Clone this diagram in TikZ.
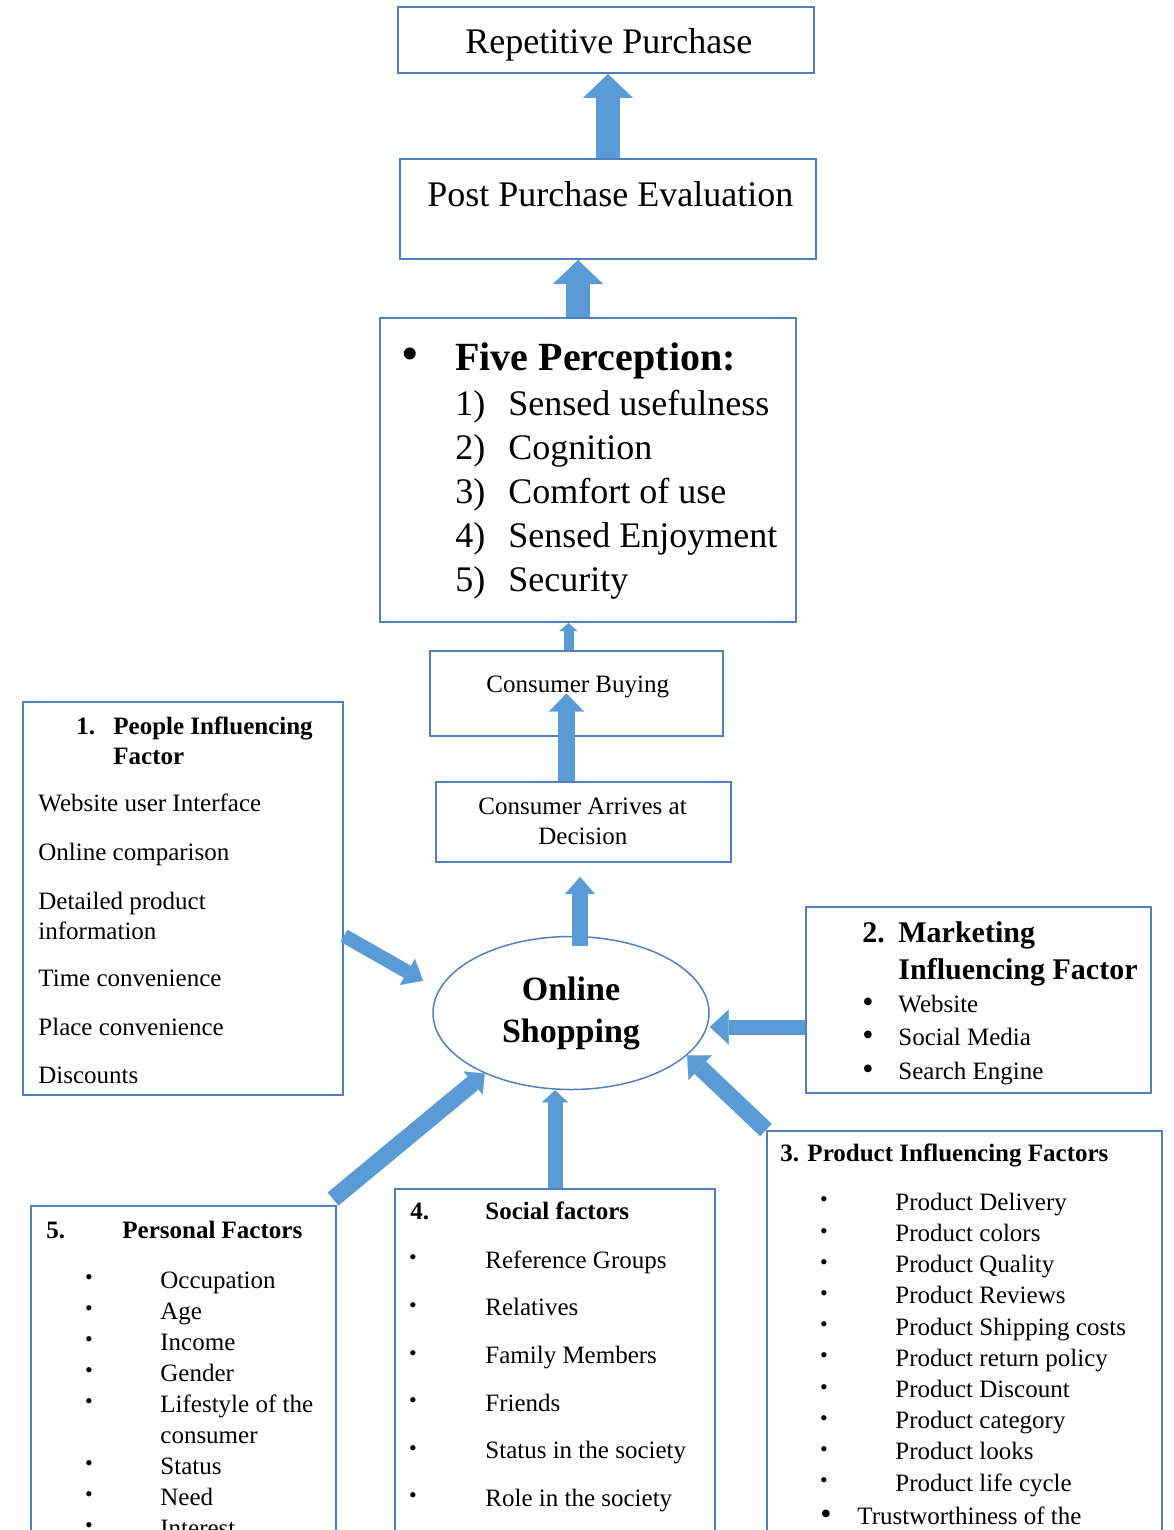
\documentclass[tikz,border=0pt]{standalone}
\usepackage{fontspec}
\setmainfont{Liberation Serif}
\usetikzlibrary{arrows.meta,shapes.geometric,positioning}
\definecolor{boxblue}{HTML}{4F81BD}
\definecolor{arrowblue}{HTML}{5B9BD5}
\tikzset{
  box/.style={
    draw = boxblue,
    line width = 1pt,
    shape = rectangle,
    inner sep = 0pt
  },
  txt/.style={
    anchor = west,
    inner sep = 0pt,
    text height = 8.2pt,
    text depth = 0pt,
    font = \fontsize{12.5}{15}\selectfont
  },
  hd/.style={
    txt,
    font = \fontsize{12.5}{15}\selectfont\bfseries
  },
  mhd/.style={
    txt,
    text height = 9.9pt,
    font = \fontsize{15}{18}\selectfont\bfseries
  },
  bigtxt/.style={
    anchor = west,
    inner sep = 0pt,
    text height = 11.9pt,
    text depth = 0pt,
    font = \fontsize{18}{21}\selectfont
  },
  bul/.style={
    inner sep = 0pt,
    font = \fontsize{11}{11}\selectfont
  },
  bigbul/.style={
    inner sep = 0pt,
    font = \fontsize{16}{16}\selectfont
  },
  fat/.style n args={3}{
    draw = arrowblue,
    line width = #1,
    -{Triangle[width=#2, length=#3, line width=0.1pt]}
  },
}
\begin{document}
\begin{tikzpicture}[x=0.5pt, y=-0.5pt]
\useasboundingbox[fill=white] (0,0) rectangle (1173,1530);
% upper chain
\node[box, minimum width=208pt, minimum height=33pt] (rep) at (606,40) {};
\node[bigtxt] (rept) at (465,42) {Repetitive Purchase};
\node[box, minimum width=208pt, minimum height=50pt] (post) at (608,209) {};
\node[bigtxt] (postt) at (427,195) {Post Purchase Evaluation};
\node[box, minimum width=208pt, minimum height=152pt] (five) at (588,470) {};
\node[inner sep=0pt, font=\fontsize{25}{25}\selectfont] (fbul) at (410,359) {•};
\node[bigtxt, text height=13.2pt, font=\fontsize{20}{24}\selectfont\bfseries] (fhd) at (455,357) {Five Perception:};
\foreach \t [count=\i] in {Sensed usefulness,Cognition,Comfort of use,Sensed Enjoyment,Security}{
  \node[bigtxt] (fn\i) at (455,{360+44*\i}) {\i)};
  \node[bigtxt] (ft\i) at (508,{360+44*\i}) {\t};
}
\node[box, minimum width=146.5pt, minimum height=42.5pt] (buy) at (576.5,693.5) {};
\node[txt] (buyt) at (486,684) {Consumer Buying};
\node[box, minimum width=147.5pt, minimum height=40pt] (arr) at (583.5,822) {};
\node[txt] (arrt1) at (478,806) {Consumer Arrives at};
\node[txt] (arrt2) at (538,836) {Decision};
% centre
\node[ellipse, draw=boxblue, line width=0.75pt, minimum width=138pt, minimum height=76.5pt, inner sep=0pt, align=center, font=\fontsize{17}{21}\selectfont\bfseries] (shop) at (571,1013) {Online\\Shopping};
% 1. people
\node[box, minimum width=160pt, minimum height=196.5pt] (people) at (183,898.5) {};
\node[hd] (pn) at (76,726) {1.};
\node[hd] (ph1) at (113,726) {People Influencing};
\node[hd] (ph2) at (113,756) {Factor};
\foreach \y/\t [count=\i] in {803/Website user Interface,852/Online comparison,901/Detailed product,931/information,978/Time convenience,1027/Place convenience,1075/Discounts}
  \node[txt] (pi\i) at (38,\y) {\t};
% 2. marketing
\node[box, minimum width=172.5pt, minimum height=93pt] (mkt) at (978.5,1000) {};
\node[mhd] (mn) at (862,933) {2.};
\node[mhd] (mh1) at (898,933) {Marketing};
\node[mhd] (mh2) at (898,970) {Influencing Factor};
\foreach \y/\t [count=\i] in {1004/Website,1037/Social Media,1071/Search Engine}{
  \node[bigbul] (mb\i) at (868,{\y+1}) {•};
  \node[txt] (mi\i) at (898,\y) {\t};
}
% 3. product
\node[box, minimum width=197.5pt, minimum height=214.5pt] (prod) at (964.5,1345.5) {};
\node[hd] (prh) at (780,1153) {3. Product Influencing Factors};
\foreach \t [count=\i] in {Delivery,colors,Quality,Reviews,Shipping costs,return policy,Discount,category,looks,life cycle}{
  \node[bul] (prb\i) at (824,{1170.8+31.2*\i}) {•};
  \node[txt] (pri\i) at (895,{1170.8+31.2*\i}) {Product \t};
}
\node[bigbul] (prb11) at (826,1517) {•};
\node[txt] (pri11) at (857,1516) {Trustworthiness of the};
% 4. social
\node[box, minimum width=160pt, minimum height=185.5pt] (social) at (555,1374.5) {};
\node[hd] (sn) at (410,1211) {4.};
\node[hd] (sh) at (485,1211) {Social factors};
\foreach \t [count=\i] in {Reference Groups,Relatives,Family Members,Friends,Status in the society,Role in the society}{
  \node[bul] (sb\i) at (413,{1212.4+47.6*\i}) {•};
  \node[txt] (si\i) at (485,{1212.4+47.6*\i}) {\t};
}
% 5. personal
\node[box, minimum width=152.5pt, minimum height=177pt] (pers) at (183.5,1383) {};
\node[hd] (pen) at (46,1230) {5.};
\node[hd] (peh) at (122,1230) {Personal Factors};
\foreach \t [count=\i] in {Occupation,Age,Income,Gender,Lifestyle of the,consumer,Status,Need,Interest}{
  \node[txt] (pei\i) at (160,{1249+31*\i}) {\t};
  \ifnum\i=6 \else \node[bul] (peb\i) at (89,{1249+31*\i}) {•}; \fi
}
% arrows
\draw[fat={12pt}{25pt}{12pt}] (post.north) -- (post.north |- rep.south);
\draw[fat={12pt}{25pt}{12pt}] ([xshift=-5pt]five.north) -- ([xshift=-5pt]five.north |- post.south);
\draw[fat={5pt}{9pt}{4pt}] ([xshift=-4pt]buy.north) -- ([xshift=-4pt]buy.north |- five.south);
\draw[fat={8.5pt}{17.5pt}{9pt}] ([xshift=-8.5pt]arr.north) -- ([xshift=-8.5pt]arr.north |- buy.center);
\draw[fat={8pt}{15pt}{8.5pt}, shorten >=7pt] ([xshift=4.5pt, yshift=-5pt]shop.north) -- ([xshift=4.5pt]shop.north |- arr.south);
\draw[fat={7pt}{15pt}{9pt}, shorten >=9pt] (people.east |- shop.north) -- (shop.170);
\coordinate (mkin) at ([yshift=-13.5pt]mkt.west);
\draw[fat={7.5pt}{17.5pt}{9.5pt}] (mkin) -- (mkin -| shop.east);
\draw[fat={8.5pt}{17pt}{9pt}] (prod.north west) -- (shop.-20);
\draw[fat={7.5pt}{13pt}{6pt}] (social.north) -- (social.north |- shop.south);
\draw[fat={8.5pt}{15pt}{7.5pt}] ([shift={(-2pt,3pt)}]pers.north east) -- (shop.215);
\end{tikzpicture}
\end{document}
